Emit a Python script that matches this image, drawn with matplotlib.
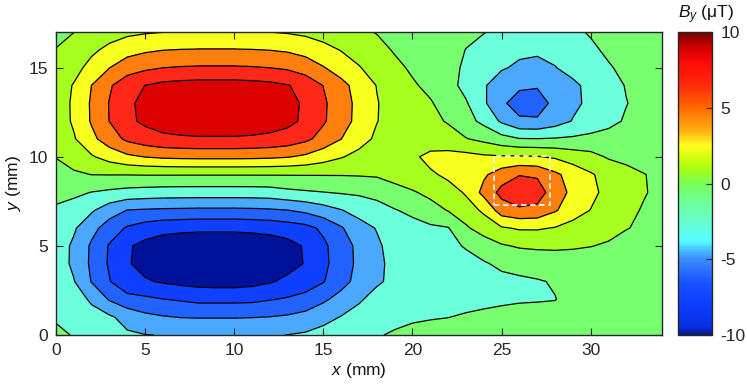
import matplotlib
matplotlib.use("Agg")
import matplotlib.pyplot as plt
import numpy as np
from matplotlib.colors import LinearSegmentedColormap, Normalize
from matplotlib.cm import ScalarMappable
from matplotlib.patches import Rectangle

plt.rcParams['font.family'] = ['Liberation Sans', 'DejaVu Sans']
plt.rcParams['mathtext.fontset'] = 'custom'
plt.rcParams['mathtext.rm'] = 'Liberation Sans'
plt.rcParams['mathtext.it'] = 'Liberation Sans:italic'
plt.rcParams['axes.unicode_minus'] = False
plt.rcParams['contour.negative_linestyle'] = 'solid'

# ---- data: B_y field (uT) on a 1 mm grid ----
x_mm = [0, 1, 2, 3, 4, 5, 6, 7, 8, 9, 10, 11, 12, 13, 14, 15, 16, 17, 18, 19,
        20, 21, 22, 23, 24, 25, 26, 27, 28, 29, 30, 31, 32, 33, 34]
y_mm = [0, 1, 2, 3, 4, 5, 6, 7, 8, 9, 10, 11, 12, 13, 14, 15, 16, 17]

by_y00 = [-0.62, -1.1, -1.66, -2.24, -2.73, -2.95, -3.05, -3.22, -3.25, -3.25, -3.25, -3.22, -3.15, -2.97, -2.75, -2.31, -1.85, -1.41, -1.1, -0.85, -0.6, -0.45, -0.35, -0.3, -0.25, -0.2, -0.2, -0.15, -0.15, -0.1, -0.1, -0.05, 0.0, 0.0, 0.0]
by_y01 = [-1.2, -1.63, -2.3, -2.7, -3.7, -4.5, -4.85, -5.05, -5.1, -5.1, -5.1, -5.05, -4.95, -4.74, -4.31, -3.62, -2.91, -2.21, -1.53, -1.35, -1.2, -1.1, -1.02, -0.85, -0.7, -0.55, -0.45, -0.35, -0.25, -0.15, -0.1, -0.05, 0.0, 0.0, 0.0]
by_y02 = [-1.43, -2.1, -3.3, -5.18, -6.3, -6.6, -6.95, -7.2, -7.5, -7.5, -7.5, -7.43, -7.1, -6.8, -6.34, -5.33, -4.28, -3.26, -2.25, -1.95, -1.8, -1.65, -1.55, -1.45, -1.35, -1.25, -1.15, -1.12, -1.05, -0.4, -0.1, 0.0, 0.0, 0.0, 0.0]
by_y03 = [-1.9, -2.9, -5.1, -6.9, -8.4, -8.8, -9.2, -9.5, -9.7, -9.8, -9.8, -9.6, -9.2, -8.5, -8.0, -7.1, -5.7, -4.34, -3.3, -2.5, -2.2, -2.0, -1.85, -1.7, -1.55, -1.4, -1.3, -1.15, -0.85, -0.3, -0.1, 0.0, 0.0, 0.0, 0.0]
by_y04 = [-2.0, -3.36, -5.36, -7.25, -8.82, -9.66, -10.19, -10.4, -10.5, -10.5, -10.5, -10.4, -10.19, -9.77, -8.87, -7.46, -5.99, -4.56, -3.4, -2.5, -2.0, -1.8, -1.6, -1.4, -1.15, -0.7, -0.4, -0.1, 0.1, 0.15, 0.1, 0.05, 0.0, 0.0, 0.0]
by_y05 = [-1.98, -3.33, -5.3, -7.18, -8.74, -9.57, -10.09, -10.3, -10.4, -10.4, -10.4, -10.3, -10.09, -9.67, -8.79, -7.38, -5.93, -4.51, -3.3, -2.3, -1.8, -1.55, -1.3, -0.9, -0.2, 0.8, 1.2, 1.3, 1.3, 1.2, 1.05, 0.8, 0.55, 0.35, 0.2]
by_y06 = [-1.63, -2.75, -4.39, -5.93, -7.22, -7.91, -8.34, -8.51, -8.6, -8.6, -8.6, -8.51, -8.34, -8.0, -7.6, -6.6, -5.2, -3.73, -2.9, -2.0, -1.6, -1.3, -1.1, 0.7, 2.0, 2.8, 3.2, 3.2, 2.9, 2.3, 1.9, 1.55, 1.05, 0.8, 0.45]
by_y07 = [-1.3, -1.73, -2.75, -4.1, -5.05, -5.2, -5.3, -5.35, -5.4, -5.4, -5.4, -5.35, -5.24, -5.02, -4.56, -3.83, -3.08, -2.34, -1.62, -1.1, -0.6, 0.2, 1.1, 2.2, 3.3, 6.0, 6.6, 6.4, 5.2, 3.9, 2.95, 2.2, 1.4, 0.85, 0.5]
by_y08 = [-0.38, -0.64, -1.05, -1.38, -1.68, -1.84, -1.94, -1.98, -2.0, -2.0, -2.0, -1.98, -1.9, -1.5, -1.25, -1.05, -0.85, -0.7, -0.5, 0.2, 0.8, 1.5, 2.2, 3.2, 5.6, 7.6, 8.7, 8.1, 5.8, 4.6, 3.5, 2.4, 1.6, 1.1, 0.6]
by_y09 = [0.45, 0.75, 1.02, 1.05, 1.05, 1.1, 1.1, 1.1, 1.1, 1.1, 1.1, 1.1, 1.1, 1.1, 1.1, 1.1, 1.1, 1.15, 1.25, 1.8, 2.3, 2.7, 3.4, 4.1, 4.7, 6.0, 6.9, 6.7, 5.4, 4.2, 3.2, 2.3, 1.6, 1.05, 0.6]
by_y10 = [1.05, 1.76, 2.8, 3.8, 4.62, 5.06, 5.34, 5.45, 5.5, 5.5, 5.5, 5.45, 5.34, 5.12, 4.65, 3.9, 3.14, 2.39, 1.65, 2.2, 2.6, 3.6, 3.8, 3.6, 3.3, 3.2, 3.2, 3.1, 2.75, 2.1, 1.6, 0.8, 0.5, 0.3, 0.2]
by_y11 = [1.67, 2.82, 4.49, 6.07, 7.39, 8.1, 8.54, 8.71, 8.8, 8.8, 8.8, 8.71, 8.54, 8.18, 7.44, 6.25, 5.02, 3.82, 2.64, 2.0, 1.65, 1.7, 1.5, 1.1, 0.5, -0.3, -0.9, -0.95, -0.85, -0.7, -0.45, -0.3, -0.2, -0.1, 0.0]
by_y12 = [1.94, 3.26, 5.2, 7.04, 8.57, 9.38, 9.89, 10.1, 10.2, 10.2, 10.2, 10.1, 9.89, 9.49, 8.62, 7.24, 5.81, 4.43, 3.06, 2.25, 1.7, 1.3, 0.9, -0.3, -1.5, -3.3, -4.6, -4.7, -3.9, -2.9, -2.2, -1.5, -0.8, -0.4, -0.2]
by_y13 = [1.96, 3.3, 5.25, 7.1, 8.65, 9.48, 9.99, 10.2, 10.3, 10.3, 10.3, 10.2, 9.99, 9.58, 8.7, 7.31, 5.87, 4.47, 3.09, 2.3, 1.75, 1.15, 0.3, -0.8, -2.7, -4.6, -6.0, -6.0, -4.4, -3.4, -2.6, -1.8, -1.05, -0.5, -0.25]
by_y14 = [1.86, 3.14, 5.02, 6.76, 8.23, 9.02, 9.51, 9.7, 9.8, 9.8, 9.8, 9.7, 9.51, 9.11, 8.28, 6.96, 5.59, 4.25, 2.94, 2.0, 1.2, 0.6, -0.3, -1.6, -2.85, -3.8, -4.6, -4.8, -4.2, -3.3, -2.6, -1.7, -0.9, -0.45, -0.2]
by_y15 = [1.37, 2.3, 3.67, 4.97, 6.05, 6.62, 6.98, 7.13, 7.2, 7.2, 7.2, 7.13, 6.98, 6.7, 6.08, 5.11, 4.1, 3.12, 2.16, 1.4, 0.75, 0.3, -0.4, -1.3, -2.4, -2.85, -3.25, -3.35, -3.05, -2.5, -1.8, -1.15, -0.6, -0.3, -0.15]
by_y16 = [1.05, 1.63, 2.6, 3.52, 4.28, 4.69, 4.95, 5.05, 5.1, 5.1, 5.1, 5.05, 4.95, 4.74, 4.31, 3.62, 2.91, 2.21, 1.53, 0.85, 0.5, 0.3, 0.0, -1.05, -1.9, -2.4, -2.7, -2.8, -2.6, -2.1, -1.3, -0.7, -0.4, -0.2, -0.1]
by_y17 = [0.58, 0.98, 1.56, 2.10, 2.56, 2.81, 2.96, 3.02, 3.05, 3.05, 3.05, 3.02, 2.98, 2.84, 2.58, 2.17, 1.74, 1.32, 0.92, 0.6, 0.35, 0.2, 0.0, -0.4, -0.9, -1.5, -1.8, -1.9, -1.7, -1.3, -0.85, -0.5, -0.3, -0.15, -0.1]

by_rows = [by_y00, by_y01, by_y02, by_y03, by_y04, by_y05, by_y06, by_y07, by_y08,
           by_y09, by_y10, by_y11, by_y12, by_y13, by_y14, by_y15, by_y16, by_y17]

contour_levels = [-9, -7, -5, -3, -1, 1, 3, 5, 7, 9]
cbar_ticks = [-10, -5, 0, 5, 10]

# dashed region of interest (mm)
roi_x = [24.6, 27.7]
roi_y = [7.3, 10.05]

# ---- styling ----
band_colors = ['#00129a', '#1040ff', '#2262ff', '#4aa8ff', '#6cffdc', '#78ff70',
               '#a6ff1e', '#f6ff1e', '#ff7f0e', '#ff2718', '#dd0000']

cb_anchor_vals = [-10, -9.5, -8, -6.5, -5, -4.3, -3.8, -2.5, -1, 0, 1, 2, 2.5, 3.5, 5, 6.5, 8, 9, 10]
cb_anchor_cols = ['#0a168c', '#0830e0', '#0d3cff', '#1a55ff', '#3c8cff', '#4ac8ff', '#55ffff',
                  '#66ffcc', '#70ff90', '#7aff55', '#a8ff10', '#e0ff10', '#ffff20', '#ffb010',
                  '#ff6a00', '#ff2a0a', '#ff0a0a', '#d00000', '#7a0000']
cb_cmap = LinearSegmentedColormap.from_list(
    'by', [((v + 10) / 20.0, c) for v, c in zip(cb_anchor_vals, cb_anchor_cols)])

W, H = 747, 387
fig = plt.figure(figsize=(W / 100, H / 100), dpi=100)
ax = fig.add_axes([56 / W, (H - 335) / H, 606 / W, 303 / H])

X, Y = np.meshgrid(np.array(x_mm, float), np.array(y_mm, float))
Z = np.array(by_rows, float)

ax.contourf(X, Y, Z, levels=contour_levels, colors=band_colors, extend='both')
ax.contour(X, Y, Z, levels=contour_levels, colors='black', linewidths=0.9,
           linestyles='solid')

ax.add_patch(Rectangle((roi_x[0], roi_y[0]), roi_x[1] - roi_x[0], roi_y[1] - roi_y[0],
                       fill=False, edgecolor='#f4f4f4', linewidth=1.3, linestyle=(0, (3, 2)),
                       zorder=5))

ax.set_xlim(0, 34)
ax.set_ylim(0, 17)
ax.set_xticks([0, 5, 10, 15, 20, 25, 30])
ax.set_yticks([0, 5, 10, 15])
ax.tick_params(direction='in', length=5, width=0.8, top=True, right=True,
               labelsize=12.5, colors='#262626', pad=6)
for s in ax.spines.values():
    s.set_linewidth(1.0)
    s.set_color('#262626')
ax.set_xlabel('$x$ (mm)', fontsize=12.5, color='#111111', labelpad=2)
ax.set_ylabel('$y$ (mm)', fontsize=12.5, color='#111111', labelpad=4)

cax = fig.add_axes([678 / W, (H - 335) / H, 34 / W, 303 / H])
sm = ScalarMappable(norm=Normalize(-10, 10), cmap=cb_cmap)
cb = fig.colorbar(sm, cax=cax, ticks=cbar_ticks)
cb.ax.tick_params(direction='in', length=4, width=0.8, labelsize=12.5, colors='#262626', pad=6)
cb.outline.set_linewidth(1.0)
cb.outline.set_edgecolor('#262626')
cb.ax.set_yticklabels([str(t) for t in cbar_ticks])
fig.text(706 / W, 1 - 15 / H, '$B_y$ (\u03bcT)', ha='center', va='center', fontsize=12.5,
         color='#111111')

fig.savefig('out.png', dpi=100)
